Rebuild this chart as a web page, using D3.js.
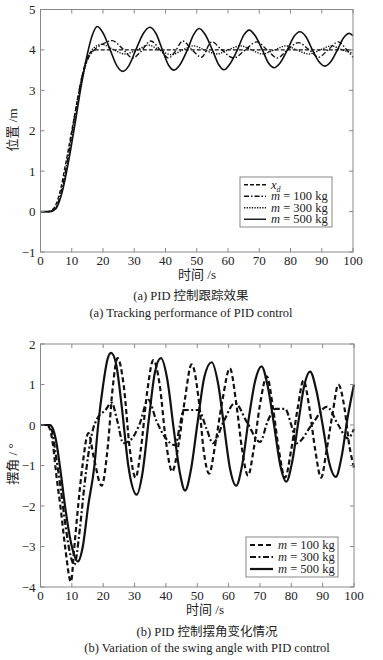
<!DOCTYPE html>
<html lang="zh">
<head>
<meta charset="UTF-8">
<title>PID control</title>
<script src="https://d3js.org/d3.v7.min.js"></script>
<style>
  body { margin: 0; background: #fff; }
</style>
</head>
<body>
<svg width="383" height="660" font-family="'Liberation Serif', 'Times New Roman', 'Noto Sans CJK SC', serif"></svg>
<script>
// ---- data ----
const xTicks = [0, 10, 20, 30, 40, 50, 60, 70, 80, 90, 100];
const posTicks = [-1, 0, 1, 2, 3, 4, 5];
const angTicks = [-4, -3, -2, -1, 0, 1, 2];

// (a) position, m
const posXd = [[0,0],[2,0],[4,0.06],[6,0.42],[8,1.16],[10,2.0],[12,2.84],[14,3.58],[16,3.94],[18,4.0],[100,4.0]];
const pos100 = [[0,0],[3,0],[5,0.12],[7,0.62],[9,1.45],[11,2.4],[13,3.25],[15,3.75],[17,3.98],[20,4.15],[22.9,4.23],[26,4.05],[29.5,3.8],[32,3.95],[35.3,4.22],[38.5,3.98],[41,3.8],[43,3.95],[45.5,4.22],[48.5,4.0],[51.5,3.82],[54.8,4.2],[58,4.0],[61.8,3.8],[65.5,4.0],[69.2,4.2],[72.5,4.0],[75.8,3.8],[79,4.0],[82.5,4.18],[86,4.0],[89,3.82],[92,4.0],[95.3,4.2],[98,4.0],[100,3.82]];
const pos300 = [[0,0],[3,0],[5,0.1],[7,0.55],[9,1.35],[11,2.25],[13,3.15],[15,3.75],[17,4.05],[19.7,4.14],[23,4.02],[27,3.9],[31,4.0],[34.5,4.12],[38,4.0],[42,3.88],[45.5,4.0],[49,4.1],[52.5,4.0],[56.5,3.9],[60,4.0],[64,4.1],[67.5,4.0],[71,3.9],[75,4.0],[78.5,4.1],[82,4.0],[86,3.9],[89.5,4.0],[93,4.1],[96.5,4.0],[100,3.92]];
const pos500 = [[0,0],[3,0],[5,0.08],[7,0.5],[9,1.25],[11,2.15],[13,3.1],[15,3.9],[16.5,4.35],[18.2,4.58],[20,4.42],[22.3,4.0],[24.5,3.6],[26.3,3.47],[28.2,3.6],[30.5,4.0],[33,4.42],[35,4.56],[37,4.4],[39,4.0],[41,3.62],[42.7,3.5],[44.5,3.62],[47,4.0],[49,4.38],[50.8,4.53],[52.7,4.38],[55,4.0],[57,3.64],[58.7,3.51],[60.5,3.64],[63,4.0],[65,4.36],[66.8,4.49],[68.7,4.35],[71,4.0],[73,3.67],[74.8,3.56],[76.6,3.67],[79,4.0],[81,4.32],[83,4.45],[85,4.32],[87,4.0],[89,3.72],[91,3.6],[93,3.72],[95,4.0],[97,4.3],[98.8,4.41],[100,4.35]];

// (b) swing angle, deg
const ang100 = [[0,0],[2,0],[3,-0.1],[4,-0.5],[5,-1.2],[6.5,-2.1],[8,-3.1],[9.7,-3.87],[10.8,-3.0],[12,-2.0],[13.4,-1.0],[15.3,-0.2],[17,-0.8],[19.5,-1.5],[21.5,-0.5],[23,0.9],[24.6,1.65],[26.5,1.0],[28.5,-0.6],[30.3,-1.3],[32,-0.6],[34,0.8],[36,1.6],[38,1.0],[40,-0.4],[42,-1.15],[44,-0.5],[46,0.6],[48.2,1.5],[50.5,0.6],[52,-0.6],[53.8,-1.2],[55.7,-0.5],[58,0.6],[60.4,1.4],[62.5,0.5],[64.3,-0.6],[66.2,-1.25],[68,-0.6],[70,0.5],[72.2,1.2],[74.2,0.4],[76,-0.6],[78,-1.3],[80,-0.6],[82,0.4],[83.9,1.1],[85.8,0.4],[87.6,-0.6],[89.5,-1.3],[91.3,-0.6],[93.2,0.3],[95,1.0],[97,0.4],[98.5,-0.5],[100,-1.05]];
const ang300 = [[0,0],[2.5,0],[3.5,-0.1],[5,-0.8],[6.5,-1.6],[8,-2.5],[9.5,-3.2],[10.8,-3.45],[12.5,-2.6],[14,-1.5],[15.5,-0.6],[16.3,-0.25],[18.4,0.2],[20.5,0.35],[22.7,0.55],[24.5,0.1],[26.4,-0.45],[29,-0.35],[31.5,0],[34.4,0.62],[37,0.1],[40.2,-0.35],[43,-0.5],[44.5,0.0],[45.6,0.37],[50.4,0.37],[53,-0.1],[55,-0.45],[58.5,0.1],[62,0.54],[66,0.05],[70,-0.42],[72.5,0.1],[75,0.4],[78,0.4],[80,0],[81.7,-0.45],[86.5,0],[91.3,0.45],[95,0],[98,-0.33],[100,-0.1]];
const ang500 = [[0,0],[3,0],[4,-0.1],[5,-0.4],[6.5,-1.2],[8,-2.1],[10,-3.0],[11.9,-3.37],[13.5,-3.0],[15.2,-2.0],[17.2,-1.0],[18.4,0],[20,1.0],[21.3,1.6],[22.5,1.78],[24,1.55],[26,0.4],[28,-1.0],[30.7,-1.72],[32.5,-1.2],[34.5,0.1],[36.5,1.3],[38.4,1.65],[40.5,1.1],[42.5,-0.1],[44.5,-1.2],[46.1,-1.62],[48,-1.1],[50,0],[52.3,1.2],[54.6,1.55],[56.7,1.0],[58.5,0],[60.5,-1.1],[62.4,-1.5],[64.3,-1.0],[66.5,0.2],[68.5,1.1],[70.5,1.45],[72.5,0.95],[74.5,0],[76.5,-1.0],[78.4,-1.4],[80.3,-0.9],[82.3,0.1],[84.2,1.0],[86,1.32],[88,0.85],[90,0],[92,-0.9],[94.2,-1.28],[96,-0.8],[98,0.2],[100,1.0]];

const svg = d3.select("svg");
const axisColor = "#888";
const inkColor = "#222";

// 图框：边框、四边内向刻度、刻度标签
function drawPanel(g, x, y, yTicks) {
  const [x0, x1] = x.range();
  const [y1, y0] = y.range();
  g.append("rect")
    .attr("x", x0).attr("y", y0)
    .attr("width", x1 - x0).attr("height", y1 - y0)
    .attr("fill", "none").attr("stroke", axisColor).attr("stroke-width", 1);

  const tl = 4;
  xTicks.forEach(t => {
    const px = x(t);
    g.append("line").attr("x1", px).attr("x2", px).attr("y1", y1).attr("y2", y1 - tl).attr("stroke", axisColor);
    g.append("line").attr("x1", px).attr("x2", px).attr("y1", y0).attr("y2", y0 + tl).attr("stroke", axisColor);
    g.append("text").attr("x", px).attr("y", y1 + 13)
      .attr("text-anchor", "middle").attr("font-size", 13).attr("fill", inkColor)
      .text(t);
  });
  yTicks.forEach(t => {
    const py = y(t);
    g.append("line").attr("x1", x0).attr("x2", x0 + tl).attr("y1", py).attr("y2", py).attr("stroke", axisColor);
    g.append("line").attr("x1", x1).attr("x2", x1 - tl).attr("y1", py).attr("y2", py).attr("stroke", axisColor);
    g.append("text").attr("x", x0 - 5).attr("y", py + 4.5)
      .attr("text-anchor", "end").attr("font-size", 13).attr("fill", inkColor)
      .text(t < 0 ? "\u2212" + Math.abs(t) : t);
  });
}

function drawLines(g, x, y, series) {
  const line = d3.line().x(d => x(d[0])).y(d => y(d[1])).curve(d3.curveMonotoneX);
  series.forEach(s => {
    g.append("path")
      .attr("d", line(s.data))
      .attr("fill", "none")
      .attr("stroke", "#111")
      .attr("stroke-width", s.w)
      .attr("stroke-dasharray", s.dash)
      .attr("stroke-linejoin", "round");
  });
}

function drawLegend(g, bx, by, bw, rowH, items, lineLen, w) {
  g.append("rect")
    .attr("x", bx).attr("y", by)
    .attr("width", bw).attr("height", rowH * items.length + 4)
    .attr("fill", "#fff").attr("stroke", axisColor);
  items.forEach((it, i) => {
    const cy = by + 2 + rowH * i + rowH / 2;
    g.append("line")
      .attr("x1", bx + 4).attr("x2", bx + 4 + lineLen)
      .attr("y1", cy).attr("y2", cy)
      .attr("stroke", "#111").attr("stroke-width", w)
      .attr("stroke-dasharray", it.dash);
    const t = g.append("text").attr("x", bx + 9 + lineLen).attr("y", cy + 4)
      .attr("font-size", 12.5).attr("fill", inkColor);
    if (it.sub) {
      t.append("tspan").attr("font-style", "italic").text("x");
      t.append("tspan").attr("font-style", "italic").attr("font-size", 8).attr("dy", 3).text(it.sub);
    } else {
      t.append("tspan").attr("font-style", "italic").text("m");
      t.append("tspan").text(" = " + it.mass + " kg");
    }
  });
}

// ---- (a) 位置跟踪 ----
const xA = d3.scaleLinear().domain([0, 100]).range([40.5, 353]);
const yA = d3.scaleLinear().domain([-1, 5]).range([252, 9.5]);
const gA = svg.append("g");
drawLines(gA, xA, yA, [
  { data: posXd, w: 1.4, dash: "4,2" },
  { data: pos100, w: 1.4, dash: "5,2,1.5,2" },
  { data: pos300, w: 1.4, dash: "1.3,1.3" },
  { data: pos500, w: 1.6, dash: null }
]);
drawPanel(gA, xA, yA, posTicks);
drawLegend(gA, 240, 177, 92, 11.5, [
  { dash: "4,2", sub: "d" },
  { dash: "5,2,1.5,2", mass: 100 },
  { dash: "1.3,1.3", mass: 300 },
  { dash: null, mass: 500 }
], 22, 1.4);
gA.append("text").attr("x", 197).attr("y", 279).attr("text-anchor", "middle").attr("font-size", 13).attr("fill", inkColor).text("时间 /s");
gA.append("text").attr("transform", "translate(17,130) rotate(-90)").attr("text-anchor", "middle").attr("font-size", 13).attr("fill", inkColor).text("位置 /m");
gA.append("text").attr("x", 191).attr("y", 300).attr("text-anchor", "middle").attr("font-size", 12.5).attr("fill", inkColor).text("(a) PID 控制跟踪效果");
gA.append("text").attr("x", 191).attr("y", 317).attr("text-anchor", "middle").attr("font-size", 12.5).attr("fill", inkColor).text("(a) Tracking performance of PID control");

// ---- (b) 摆角 ----
const xB = d3.scaleLinear().domain([0, 100]).range([40.5, 354]);
const yB = d3.scaleLinear().domain([-4, 2]).range([587, 344]);
const gB = svg.append("g");
drawLines(gB, xB, yB, [
  { data: ang100, w: 2.2, dash: "5,3" },
  { data: ang300, w: 2.2, dash: "6,2.5,2,2.5" },
  { data: ang500, w: 2.2, dash: null }
]);
drawPanel(gB, xB, yB, angTicks);
drawLegend(gB, 246, 537, 92, 12, [
  { dash: "5,3", mass: 100 },
  { dash: "6,2.5,2,2.5", mass: 300 },
  { dash: null, mass: 500 }
], 23, 2.2);
gB.append("text").attr("x", 205).attr("y", 614).attr("text-anchor", "middle").attr("font-size", 13).attr("fill", inkColor).text("时间 /s");
gB.append("text").attr("transform", "translate(17,464) rotate(-90)").attr("text-anchor", "middle").attr("font-size", 13).attr("fill", inkColor).text("摆角 / °");
gB.append("text").attr("x", 207).attr("y", 636).attr("text-anchor", "middle").attr("font-size", 12.5).attr("fill", inkColor).text("(b) PID 控制摆角变化情况");
gB.append("text").attr("x", 207).attr("y", 652).attr("text-anchor", "middle").attr("font-size", 12.5).attr("fill", inkColor).text("(b) Variation of the swing angle with PID control");
</script>
</body>
</html>
